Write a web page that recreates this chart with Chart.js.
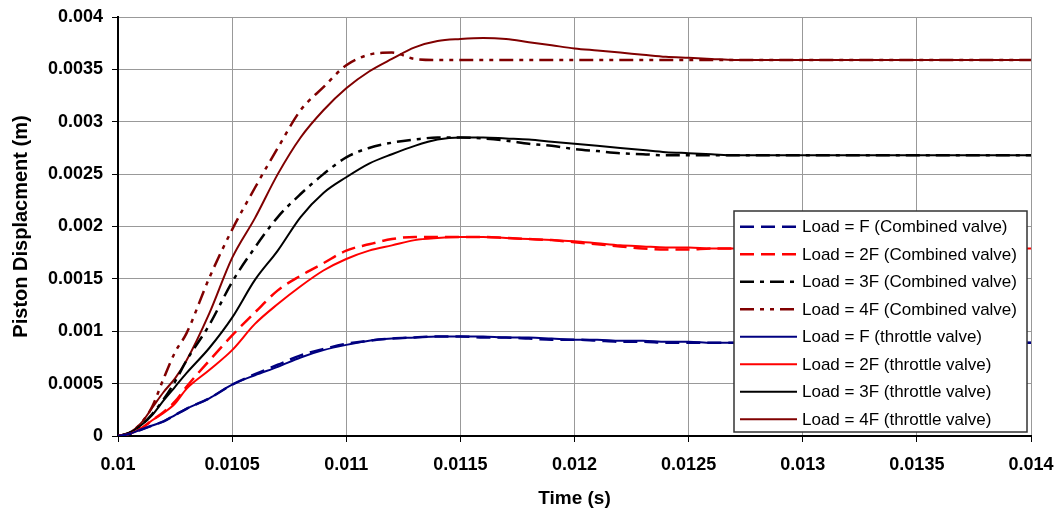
<!DOCTYPE html>
<html>
<head>
<meta charset="utf-8">
<script src="https://cdn.jsdelivr.net/npm/chart.js@4/dist/chart.umd.min.js"></script>
<style>
  body { margin: 0; background: #fff; }
  #chart { display: block; }
</style>
</head>
<body>
<canvas id="chart" width="1058" height="514"></canvas>
<script>
// Sample times (s)
const time = [0.01, 0.01005, 0.0101, 0.01015, 0.0102, 0.01025, 0.0103, 0.0104, 0.0105, 0.0106,
  0.0107, 0.0108, 0.0109, 0.011, 0.0111, 0.0112, 0.0113, 0.0114, 0.0115, 0.0116,
  0.0117, 0.0118, 0.0119, 0.012, 0.0121, 0.0122, 0.0123, 0.0124, 0.0125, 0.0126,
  0.0127, 0.0128, 0.013, 0.0135, 0.014];

// Piston displacement (m), combined valve
const combinedF = [0, 0.00002, 0.00006, 0.0001, 0.00014, 0.0002, 0.00026, 0.00036, 0.00049, 0.00059,
  0.00068, 0.00077, 0.00083, 0.00088, 0.00091, 0.00093, 0.00094, 0.00095, 0.00095, 0.00094,
  0.00094, 0.00093, 0.00092, 0.00092, 0.00091, 0.0009, 0.0009, 0.00089, 0.00089, 0.00089,
  0.00089, 0.00089, 0.00089, 0.00089, 0.00089];
const combined2F = [0, 0.00002, 0.00007, 0.00015, 0.00023, 0.00033, 0.00047, 0.00072, 0.00096, 0.00118,
  0.00139, 0.00153, 0.00165, 0.00177, 0.00183, 0.00188, 0.0019, 0.0019, 0.0019, 0.0019,
  0.00189, 0.00188, 0.00187, 0.00185, 0.00183, 0.00181, 0.00179, 0.00178, 0.00178, 0.00179,
  0.00179, 0.00179, 0.00179, 0.00179, 0.00179];
const combined3F = [0, 0.00003, 0.0001, 0.00021, 0.00035, 0.00052, 0.00072, 0.00106, 0.00147, 0.0018,
  0.00209, 0.00231, 0.0025, 0.00266, 0.00275, 0.0028, 0.00283, 0.00285, 0.00285, 0.00284,
  0.00282, 0.00279, 0.00277, 0.00274, 0.00272, 0.0027, 0.00269, 0.00268, 0.00268, 0.00268,
  0.00268, 0.00268, 0.00268, 0.00268, 0.00268];
const combined4F = [0, 0.00003, 0.00012, 0.00028, 0.00055, 0.0008, 0.00098, 0.00151, 0.00197, 0.00237,
  0.00275, 0.00311, 0.00333, 0.00354, 0.00364, 0.00366, 0.0036, 0.00359, 0.00359, 0.00359,
  0.00359, 0.00359, 0.00359, 0.00359, 0.00359, 0.00359, 0.00359, 0.00359, 0.00359, 0.00359,
  0.00359, 0.00359, 0.00359, 0.00359, 0.00359];

// Piston displacement (m), throttle valve
const throttleF = [0, 0.00002, 0.00006, 0.0001, 0.00014, 0.0002, 0.00026, 0.00036, 0.00049, 0.00058,
  0.00066, 0.00075, 0.00082, 0.00087, 0.00091, 0.00093, 0.00094, 0.00095, 0.00095, 0.00095,
  0.00094, 0.00094, 0.00093, 0.00092, 0.00092, 0.00091, 0.00091, 0.0009, 0.0009, 0.00089,
  0.00089, 0.00089, 0.00089, 0.00089, 0.00089];
const throttle2F = [0, 0.00002, 0.00007, 0.00015, 0.00022, 0.00031, 0.00045, 0.00063, 0.00082, 0.00107,
  0.00126, 0.00143, 0.00158, 0.00169, 0.00177, 0.00182, 0.00187, 0.00189, 0.0019, 0.0019,
  0.00189, 0.00188, 0.00187, 0.00186, 0.00184, 0.00182, 0.00181, 0.0018, 0.0018, 0.00179,
  0.00179, 0.00179, 0.00179, 0.00179, 0.00179];
const throttle3F = [0, 0.00003, 0.0001, 0.0002, 0.00034, 0.00047, 0.0006, 0.00084, 0.00113, 0.00149,
  0.00177, 0.00209, 0.00232, 0.00247, 0.0026, 0.00269, 0.00277, 0.00283, 0.00285, 0.00285,
  0.00284, 0.00283, 0.00281, 0.00279, 0.00277, 0.00275, 0.00273, 0.00271, 0.0027, 0.00269,
  0.00268, 0.00268, 0.00268, 0.00268, 0.00268];
const throttle4F = [0, 0.00003, 0.00012, 0.00027, 0.00042, 0.00055, 0.00072, 0.00117, 0.0017, 0.00208,
  0.0025, 0.00285, 0.00311, 0.00332, 0.00348, 0.0036, 0.00371, 0.00377, 0.00379, 0.0038,
  0.00379, 0.00376, 0.00373, 0.0037, 0.00368, 0.00366, 0.00364, 0.00362, 0.00361, 0.0036,
  0.00359, 0.00359, 0.00359, 0.00359, 0.00359];

// Axis ticks
const xTicks = [0.01, 0.0105, 0.011, 0.0115, 0.012, 0.0125, 0.013, 0.0135, 0.014];
const xTickLabels = ['0.01', '0.0105', '0.011', '0.0115', '0.012', '0.0125', '0.013', '0.0135', '0.014'];
const yTicks = [0, 0.0005, 0.001, 0.0015, 0.002, 0.0025, 0.003, 0.0035, 0.004];
const yTickLabels = ['0', '0.0005', '0.001', '0.0015', '0.002', '0.0025', '0.003', '0.0035', '0.004'];

const FONT = '"Liberation Sans", Arial, sans-serif';

function series(label, values, color, dash, width) {
  return {
    label: label,
    data: time.map((t, i) => ({ x: t, y: values[i] })),
    borderColor: color,
    borderWidth: width,
    borderDash: dash,
    pointRadius: 0,
    cubicInterpolationMode: 'monotone',
    fill: false
  };
}

const dashF = [14, 7];
const dash3F = [14, 6, 4, 6];
const dash4F = [14, 6, 4, 6, 4, 6];

// Legend box drawn inside the plot, lower right
const boxLegend = {
  id: 'boxLegend',
  afterDraw(chart) {
    const ctx = chart.ctx;
    const area = chart.chartArea;
    const w = 293, h = 221;
    const x0 = area.right - 4 - w;
    const y0 = area.bottom - 4 - h;
    ctx.save();
    ctx.fillStyle = '#fff';
    ctx.fillRect(x0, y0, w, h);
    ctx.strokeStyle = '#333';
    ctx.lineWidth = 1.5;
    ctx.strokeRect(x0, y0, w, h);
    ctx.font = '17px ' + FONT;
    ctx.textBaseline = 'middle';
    chart.data.datasets.forEach((ds, i) => {
      const y = y0 + 15.7 + i * 27.5;
      ctx.strokeStyle = ds.borderColor;
      ctx.lineWidth = ds.borderWidth;
      ctx.setLineDash(ds.borderDash || []);
      ctx.beginPath();
      ctx.moveTo(x0 + 6, y);
      ctx.lineTo(x0 + 63, y);
      ctx.stroke();
      ctx.setLineDash([]);
      ctx.fillStyle = '#000';
      ctx.fillText(ds.label, x0 + 68, y + 1);
    });
    ctx.restore();
  }
};

new Chart(document.getElementById('chart'), {
  type: 'line',
  data: {
    datasets: [
      series('Load = F (Combined valve)', combinedF, '#000080', dashF, 2.5),
      series('Load = 2F (Combined valve)', combined2F, '#ff0000', dashF, 2.5),
      series('Load = 3F (Combined valve)', combined3F, '#000000', dash3F, 2.5),
      series('Load = 4F (Combined valve)', combined4F, '#800000', dash4F, 2.5),
      series('Load = F (throttle valve)', throttleF, '#000080', [], 2),
      series('Load = 2F (throttle valve)', throttle2F, '#ff0000', [], 2),
      series('Load = 3F (throttle valve)', throttle3F, '#000000', [], 2),
      series('Load = 4F (throttle valve)', throttle4F, '#800000', [], 2)
    ]
  },
  options: {
    responsive: false,
    animation: false,
    devicePixelRatio: 1,
    layout: { padding: { top: 17, right: 27, left: 0, bottom: 0 } },
    plugins: {
      legend: { display: false },
      tooltip: { enabled: false }
    },
    scales: {
      x: {
        type: 'linear',
        min: 0.01,
        max: 0.014,
        afterBuildTicks: axis => { axis.ticks = xTicks.map(v => ({ value: v })); },
        afterFit: axis => {
          axis.height = 78;
          axis.paddingLeft = 0;
          axis.paddingRight = 0;
        },
        ticks: {
          color: '#000',
          font: { family: FONT, size: 18, weight: 'bold' },
          padding: 12,
          maxRotation: 0,
          callback: (v, i) => xTickLabels[i]
        },
        grid: { color: '#999', lineWidth: 1, tickColor: '#000', tickLength: 6 },
        border: { color: '#000', width: 2 },
        title: {
          display: true,
          text: 'Time (s)',
          color: '#000',
          font: { family: FONT, size: 19, weight: 'bold' },
          padding: { top: 0, bottom: 4 }
        }
      },
      y: {
        type: 'linear',
        min: 0,
        max: 0.004,
        afterBuildTicks: axis => { axis.ticks = yTicks.map(v => ({ value: v })); },
        afterFit: axis => {
          axis.width = 118;
          axis.paddingTop = 0;
          axis.paddingBottom = 0;
        },
        ticks: {
          color: '#000',
          font: { family: FONT, size: 18, weight: 'bold' },
          padding: 9,
          callback: (v, i) => yTickLabels[i]
        },
        grid: { color: '#999', lineWidth: 1, tickColor: '#000', tickLength: 6 },
        border: { color: '#000', width: 2 },
        title: {
          display: true,
          text: 'Piston Displacment (m)',
          color: '#000',
          font: { family: FONT, size: 20, weight: 'bold' },
          padding: { top: 9, bottom: 0 }
        }
      }
    }
  },
  plugins: [boxLegend]
});
</script>
</body>
</html>
